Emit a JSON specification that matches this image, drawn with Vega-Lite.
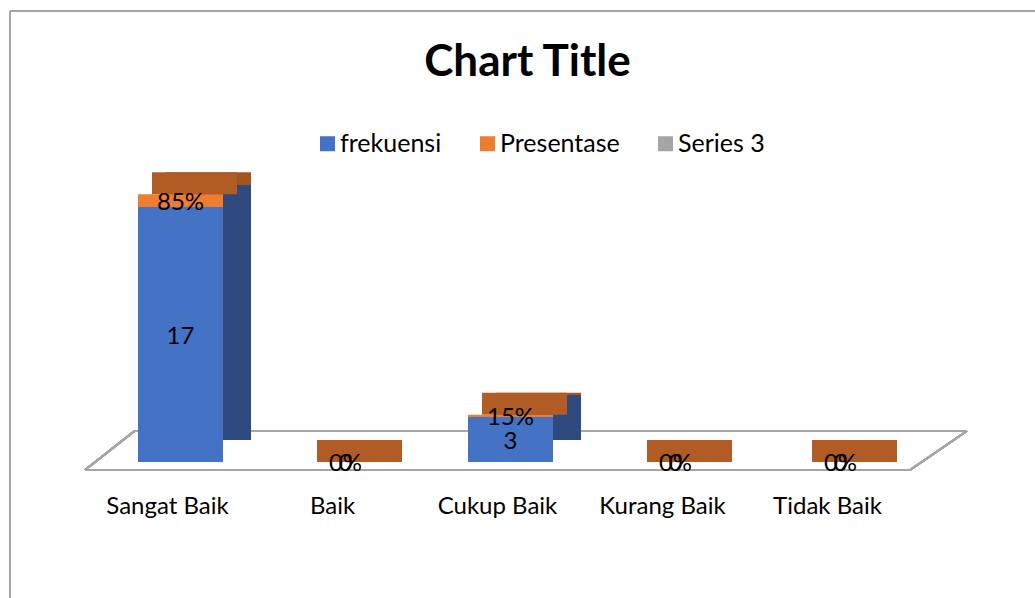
{
  "$schema": "https://vega.github.io/schema/vega-lite/v6.json",
  "autosize": "none",
  "width": 825,
  "height": 300,
  "padding": {"left": 85, "top": 162, "right": 125, "bottom": 136},
  "background": "white",
  "config": {
    "view": {"stroke": null},
    "font": "Lato",
    "axisX": {"domain": false, "ticks": false, "grid": false, "labelAngle": 0, "labelFont": "Lato", "labelFontSize": 24, "labelColor": "#000000", "labelPadding": 32}
  },
  "title": {"text": "Chart Title", "font": "Lato", "fontSize": 44, "fontWeight": "bold", "color": "#000000", "anchor": "middle", "dx": 30, "offset": -75, "frame": "group"},
  "data": {"values": [
    {"kategori": "Sangat Baik", "seri": "frekuensi", "nilai": 17},
    {"kategori": "Sangat Baik", "seri": "Presentase", "nilai": 0.85},
    {"kategori": "Baik", "seri": "frekuensi", "nilai": 0},
    {"kategori": "Baik", "seri": "Presentase", "nilai": 0},
    {"kategori": "Cukup Baik", "seri": "frekuensi", "nilai": 3},
    {"kategori": "Cukup Baik", "seri": "Presentase", "nilai": 0.15},
    {"kategori": "Kurang Baik", "seri": "frekuensi", "nilai": 0},
    {"kategori": "Kurang Baik", "seri": "Presentase", "nilai": 0},
    {"kategori": "Tidak Baik", "seri": "frekuensi", "nilai": 0},
    {"kategori": "Tidak Baik", "seri": "Presentase", "nilai": 0}
  ]},
  "transform": [
    {"stack": "nilai", "groupby": ["kategori"], "sort": [{"field": "seri", "order": "descending"}], "as": ["y0", "y1"]},
    {"calculate": "(datum.y0 + datum.y1) / 2", "as": "ymid"},
    {"calculate": "datum.seri === 'Presentase' ? format(datum.nilai, '.0%') : format(datum.nilai, 'd')", "as": "label"}
  ],
  "layer": [
    {
      "mark": {"type": "rule", "color": "#A6A6A6", "strokeWidth": 1.5},
      "encoding": {
        "x": {"datum": "Sangat Baik", "type": "nominal", "bandPosition": -0.4545, "title": null,
          "scale": {"domain": ["Sangat Baik", "Baik", "Cukup Baik", "Kurang Baik", "Tidak Baik"], "paddingInner": 0, "paddingOuter": 0}},
        "x2": {"datum": "Sangat Baik", "bandPosition": -0.4545},
        "y": {"datum": 30.07, "type": "quantitative", "scale": {"domain": [0, 20], "nice": false}, "axis": null},
        "y2": {"datum": -9.2}
      }
    },
    {
      "mark": {"type": "rule", "color": "#A6A6A6", "strokeWidth": 1.5},
      "encoding": {
        "x": {"datum": "Sangat Baik", "bandPosition": -0.4545, "title": null},
        "x2": {"datum": "Tidak Baik", "bandPosition": 1.8},
        "y": {"datum": 30.07, "type": "quantitative", "axis": null},
        "y2": {"datum": 30.07}
      }
    },
    {
      "mark": {"type": "rule", "color": "#A6A6A6", "strokeWidth": 2},
      "encoding": {
        "x": {"datum": "Sangat Baik", "bandPosition": 0, "title": null},
        "x2": {"datum": "Tidak Baik", "bandPosition": 1},
        "y": {"datum": -0.53, "type": "quantitative", "axis": null},
        "y2": {"datum": -0.53}
      }
    },
    {
      "mark": {"type": "rule", "color": "#A6A6A6", "strokeWidth": 2},
      "encoding": {
        "x": {"datum": "Sangat Baik", "bandPosition": 0.3, "title": null},
        "x2": {"datum": "Tidak Baik", "bandPosition": 1.345},
        "y": {"datum": 2.07, "type": "quantitative", "axis": null},
        "y2": {"datum": 2.07}
      }
    },
    {
      "mark": {"type": "rule", "color": "#A6A6A6", "strokeWidth": 2},
      "encoding": {
        "x": {"datum": "Sangat Baik", "bandPosition": 0, "title": null},
        "x2": {"datum": "Sangat Baik", "bandPosition": 0.3},
        "y": {"datum": -0.53, "type": "quantitative", "axis": null},
        "y2": {"datum": 2.07}
      }
    },
    {
      "mark": {"type": "rule", "color": "#A6A6A6", "strokeWidth": 2},
      "encoding": {
        "x": {"datum": "Tidak Baik", "bandPosition": 1, "title": null},
        "x2": {"datum": "Tidak Baik", "bandPosition": 1.345},
        "y": {"datum": -0.53, "type": "quantitative", "axis": null},
        "y2": {"datum": 2.07}
      }
    },
    {
      "mark": {"type": "bar", "width": 85, "xOffset": 41, "yOffset": -22, "y2Offset": -22},
      "encoding": {
        "x": {"field": "kategori", "type": "nominal", "sort": null, "title": null},
        "y": {"field": "y0", "type": "quantitative", "axis": null},
        "y2": {"field": "y1"},
        "fill": {"condition": {"test": "datum.seri === 'frekuensi'", "value": "#2E4A7E"}, "value": "#A4551F"}
      }
    },
    {
      "transform": [{"filter": "datum.seri === 'Presentase'"}],
      "mark": {"type": "tick", "orient": "horizontal", "size": 85, "thickness": 22, "xOffset": 27, "yOffset": -11, "color": "#B15C24", "opacity": 1},
      "encoding": {
        "x": {"field": "kategori", "type": "nominal", "sort": null, "title": null},
        "y": {"field": "y1", "type": "quantitative", "axis": null}
      }
    },
    {
      "mark": {"type": "bar", "width": 85, "xOffset": 13},
      "encoding": {
        "x": {"field": "kategori", "type": "nominal", "sort": null, "title": null},
        "y": {"field": "y0", "type": "quantitative", "axis": null},
        "y2": {"field": "y1"},
        "color": {"field": "seri", "type": "nominal",
          "scale": {"domain": ["frekuensi", "Presentase", "Series 3"], "range": ["#4472C4", "#ED7D31", "#A5A5A5"]},
          "legend": {"title": null, "orient": "none", "direction": "horizontal", "legendX": 230, "legendY": -31, "padding": 0,
            "symbolType": "square", "symbolSize": 225, "symbolStrokeWidth": 0, "labelFont": "Lato", "labelFontSize": 25, "labelColor": "#000000", "labelOffset": 0, "columnPadding": 33}}
      }
    },
    {
      "mark": {"type": "text", "font": "Lato", "fontSize": 24, "color": "#000000", "xOffset": 13, "dy": 2},
      "encoding": {
        "x": {"field": "kategori", "type": "nominal", "sort": null, "title": null},
        "y": {"field": "ymid", "type": "quantitative", "axis": null},
        "text": {"field": "label"}
      }
    }
  ]
}
